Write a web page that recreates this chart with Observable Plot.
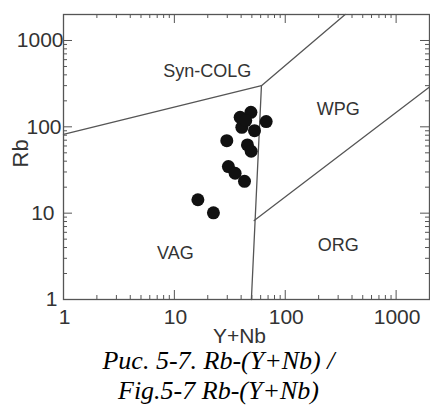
<!DOCTYPE html>
<html><head><meta charset="utf-8">
<script src="https://cdn.jsdelivr.net/npm/d3@7"></script>
<script src="https://cdn.jsdelivr.net/npm/@observablehq/plot@0.6"></script>
<style>
body{margin:0;background:#fff;}
#cap{font-family:"Liberation Serif","Times New Roman",serif;font-style:italic;font-size:26px;line-height:30.5px;text-align:center;margin-top:-2.1px;padding-left:7px;color:#000;width:430px;box-sizing:border-box;position:relative}
</style></head><body>
<div id="chart"></div>
<div id="cap">Рис. 5-7. Rb-(Y+Nb) /<br>Fig.5-7 Rb-(Y+Nb)</div>
<script>
// samples
const sampleYNb = [39.2, 49.0, 40.6, 52.8, 67.3, 44.0, 29.7, 45.6, 49.3, 30.7, 35.3, 42.9, 16.3, 22.5];
const sampleRb  = [128.8, 147.2, 98.7, 90.3, 114.9, 118, 69.2, 61.7, 52.1, 34.6, 29.0, 23.4, 14.3, 10.1];

// discrimination boundaries (Y+Nb, Rb)
const lineVagSyn   = [[1, 82], [61, 300]];
const lineSynWpg   = [[61, 300], [347, 2000]];
const lineVagWpg   = [[49.5, 1], [61, 300]];
const lineWpgOrg   = [[52.5, 8.2], [2000, 290]];

// field labels
const fieldNames = ["Syn-COLG", "WPG", "VAG", "ORG"];
const fieldX = [19.8, 300, 10.2, 300];
const fieldY = [435, 162, 3.4, 4.2];

// ticks
const xMajor = [1, 10, 100, 1000];
const yMajor = [1, 10, 100, 1000];
const xMinor = [2,3,4,5,6,7,8,9,20,30,40,50,60,70,80,90,200,300,400,500,600,700,800,900];
const yMinor = [2,3,4,5,6,7,8,9,20,30,40,50,60,70,80,90,200,300,400,500,600,700,800,900];
const yLabelShift = [-6, -9, -2, 0];
const yTitleAt = 33.8; // vertical placement of the "Rb" axis title, in Rb units

const samples = sampleYNb.map((x, i) => ({x, y: sampleRb[i]}));
const boundaries = [lineVagSyn, lineSynWpg, lineVagWpg, lineWpgOrg]
  .flatMap((pts, id) => pts.map(([x, y]) => ({id, x, y})));
const fields = fieldNames.map((t, i) => ({t, x: fieldX[i], y: fieldY[i]}));

const W = 430, H = 348, mT = 14, mB = 49, mL = 63, mR = 1;
const innerH = H - mT - mB, innerW = W - mL - mR;
const MAJ = 9, MIN = 4;
const ts = {stroke: "#555", strokeWidth: 1};
const TICKFS = 21;

const plot = Plot.plot({
  width: W, height: H,
  marginTop: mT, marginBottom: mB, marginLeft: mL, marginRight: mR,
  x: {type: "log", domain: [1, 2000], axis: null},
  y: {type: "log", domain: [1, 2000], axis: null},
  style: {fontFamily: "'Liberation Sans', Arial, sans-serif", background: "#fff", color: "#222"},
  marks: [
    Plot.tickX(xMinor, {x: d => d, insetTop: innerH - MIN, ...ts}),
    Plot.tickX(xMinor, {x: d => d, insetBottom: innerH - MIN, ...ts}),
    Plot.tickX(xMajor, {x: d => d, insetTop: innerH - MAJ, ...ts}),
    Plot.tickX(xMajor, {x: d => d, insetBottom: innerH - MAJ, ...ts}),
    Plot.tickY(yMinor, {y: d => d, insetRight: innerW - MIN, ...ts}),
    Plot.tickY(yMinor, {y: d => d, insetLeft: innerW - MIN, ...ts}),
    Plot.tickY(yMajor, {y: d => d, insetRight: innerW - MAJ, ...ts}),
    Plot.tickY(yMajor, {y: d => d, insetLeft: innerW - MAJ, ...ts}),
    Plot.line(boundaries, {x: "x", y: "y", z: "id", stroke: "#555", strokeWidth: 1.3}),
    Plot.dot(samples, {x: "x", y: "y", r: 6.5, fill: "#111"}),
    Plot.text(fields, {x: "x", y: "y", text: "t", fontSize: 18, fill: "#333"}),
    Plot.text(xMajor, {x: d => d, frameAnchor: "bottom", lineAnchor: "middle", dx: 1, dy: 18, text: d => String(d), fontSize: TICKFS, fill: "#333"}),
    ...yMajor.map((v, i) => Plot.text([v], {y: d => d, frameAnchor: "left", lineAnchor: "middle", dx: yLabelShift[i], textAnchor: "end", text: d => String(d), fontSize: TICKFS, fill: "#333"})),
    Plot.text(["Y+Nb"], {frameAnchor: "bottom", lineAnchor: "middle", dx: -7, dy: 36.5, text: d => d, fontSize: 21, fill: "#333"}),
    Plot.text(["Rb"], {y: () => yTitleAt, frameAnchor: "left", lineAnchor: "middle", dx: -43, rotate: -90, text: d => d, fontSize: 22, fill: "#333"}),
    Plot.frame({stroke: "#555", strokeWidth: 1.3})
  ]
});
document.getElementById("chart").appendChild(plot);
</script>
</body></html>
